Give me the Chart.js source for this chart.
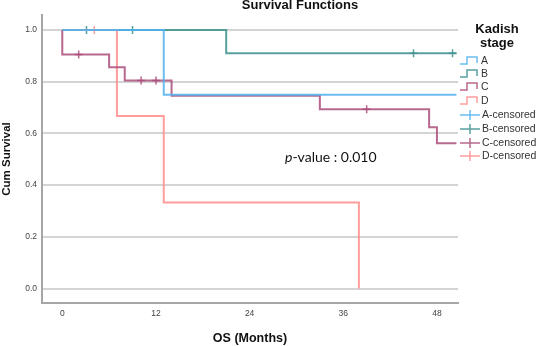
<!DOCTYPE html>
<html>
<head>
<meta charset="utf-8">
<script src="https://cdn.jsdelivr.net/npm/chart.js@4"></script>
<style>
    body { margin: 0; background: #fff; }
    #wrap { width: 536px; height: 346px; position: relative; }
</style>
</head>
<body>
<div id="wrap"><canvas id="kmChart" width="536" height="346"></canvas></div>
<script>
// Kaplan-Meier steps (months, cum survival)
const aTime = [0, 13, 50.5];
const aSurv = [1, 0.75, 0.75];
const bTime = [0, 21, 50.5];
const bSurv = [1, 0.91, 0.91];
const cTime = [0, 0, 6, 8, 14, 33, 47, 48, 50.5];
const cSurv = [1, 0.905, 0.856, 0.805, 0.746, 0.693, 0.624, 0.562, 0.562];
const dTime = [0, 7, 13, 38];
const dSurv = [1, 0.667, 0.333, 0];

// censored observations
const aCensTime = [];
const aCensSurv = [];
const bCensTime = [3.1, 9, 45, 50];
const bCensSurv = [1, 1, 0.91, 0.91];
const cCensTime = [2.1, 10.1, 12, 39];
const cCensSurv = [0.905, 0.805, 0.805, 0.693];
const dCensTime = [4.1];
const dCensSurv = [1];

const xTicks = [0, 12, 24, 36, 48];
const yTicks = [0, 0.2, 0.4, 0.6, 0.8, 1.0];
const stages = ['A', 'B', 'C', 'D'];

const colors = {
    A: 'rgba(80, 178, 240, 0.85)',
    B: 'rgba(70, 150, 148, 0.9)',
    C: 'rgba(172, 76, 122, 0.85)',
    D: 'rgba(255, 140, 140, 0.85)'
};

function pts(t, s) {
    return t.map((v, i) => ({ x: v, y: s[i] }));
}

function curve(label, t, s) {
    return {
        label: label,
        data: pts(t, s),
        showLine: true,
        stepped: 'before',
        borderColor: colors[label],
        borderWidth: 2,
        pointRadius: 0,
        fill: false
    };
}

function censored(label, t, s) {
    return {
        label: label + '-censored',
        data: pts(t, s),
        showLine: false,
        pointStyle: 'cross',
        pointRadius: 4,
        borderColor: colors[label],
        borderWidth: 1.5
    };
}

// title, p-value and legend drawn on the canvas
const extras = {
    id: 'extras',
    afterDraw(chart) {
        const ctx = chart.ctx;
        ctx.save();
        ctx.fillStyle = '#111';
        ctx.textAlign = 'center';
        ctx.textBaseline = 'alphabetic';
        ctx.font = 'bold 13px "Liberation Sans", Arial, sans-serif';
        ctx.fillText('Survival Functions', 300, 9);

        ctx.fillText('Kadish', 497, 33);
        ctx.fillText('stage', 497, 47);

        // p-value note
        ctx.textAlign = 'left';
        ctx.textBaseline = 'middle';
        ctx.font = 'italic 14px Lato, sans-serif';
        ctx.fillText('p', 285, 157);
        const pw = ctx.measureText('p').width;
        ctx.font = '14px Lato, sans-serif';
        ctx.fillText('-value : 0.010', 285 + pw, 157);

        // legend
        const rows = [61, 74, 87, 101, 115, 129, 143, 156];
        ctx.font = '10.5px "Liberation Sans", Arial, sans-serif';
        ctx.fillStyle = '#333';
        stages.forEach((s, i) => {
            const y = rows[i];
            ctx.strokeStyle = colors[s];
            ctx.lineWidth = 1.5;
            ctx.beginPath();
            ctx.moveTo(460, y + 3);
            ctx.lineTo(467, y + 3);
            ctx.lineTo(467, y - 4);
            ctx.lineTo(477, y - 4);
            ctx.lineTo(477, y + 2);
            ctx.stroke();
            ctx.fillText(s, 481, y);
        });
        stages.forEach((s, i) => {
            const y = rows[i + 4];
            ctx.strokeStyle = colors[s];
            ctx.lineWidth = 1.5;
            ctx.beginPath();
            ctx.moveTo(460, y);
            ctx.lineTo(480, y);
            ctx.moveTo(470, y - 5);
            ctx.lineTo(470, y + 5);
            ctx.stroke();
            ctx.fillText(s + '-censored', 482, y);
        });
        ctx.restore();
    }
};

new Chart(document.getElementById('kmChart').getContext('2d'), {
    type: 'scatter',
    data: {
        datasets: [
            curve('A', aTime, aSurv),
            curve('C', cTime, cSurv),
            curve('D', dTime, dSurv),
            curve('B', bTime, bSurv),
            censored('A', aCensTime, aCensSurv),
            censored('B', bCensTime, bCensSurv),
            censored('C', cCensTime, cCensSurv),
            censored('D', dCensTime, dCensSurv)
        ]
    },
    options: {
        responsive: false,
        devicePixelRatio: 1,
        animation: false,
        layout: {
            padding: { left: 0, right: 78, top: 15, bottom: 0 }
        },
        plugins: {
            legend: { display: false },
            tooltip: { enabled: false }
        },
        scales: {
            x: {
                type: 'linear',
                min: -2.6,
                max: 50.7,
                afterBuildTicks: function(scale) {
                    scale.ticks = xTicks.map(v => ({ value: v }));
                },
                afterFit: function(scale) {
                    scale.height = 43;
                },
                grid: { display: false, drawTicks: false },
                border: { display: true, color: '#a6a6a6', width: 2 },
                ticks: {
                    padding: 6,
                    color: '#444',
                    font: { family: '"Liberation Sans", Arial, sans-serif', size: 8.5 }
                },
                title: {
                    display: true,
                    text: 'OS (Months)',
                    color: '#111',
                    padding: { top: 0, bottom: 0 },
                    font: { family: '"Liberation Sans", Arial, sans-serif', size: 12.5, weight: 'bold' }
                }
            },
            y: {
                type: 'linear',
                min: -0.056,
                max: 1.058,
                afterBuildTicks: function(scale) {
                    scale.ticks = yTicks.map(v => ({ value: v }));
                },
                afterFit: function(scale) {
                    scale.width = 42;
                },
                grid: { color: '#d4d4d4', lineWidth: 2, drawTicks: false },
                border: { display: true, color: '#a6a6a6', width: 2 },
                ticks: {
                    padding: 5,
                    color: '#444',
                    font: { family: '"Liberation Sans", Arial, sans-serif', size: 8.5 },
                    callback: function(v) { return v.toFixed(1); }
                },
                title: {
                    display: true,
                    text: 'Cum Survival',
                    color: '#111',
                    padding: 0,
                    font: { family: '"Liberation Sans", Arial, sans-serif', size: 11.5, weight: 'bold' }
                }
            }
        }
    },
    plugins: [extras]
});
</script>
</body>
</html>
